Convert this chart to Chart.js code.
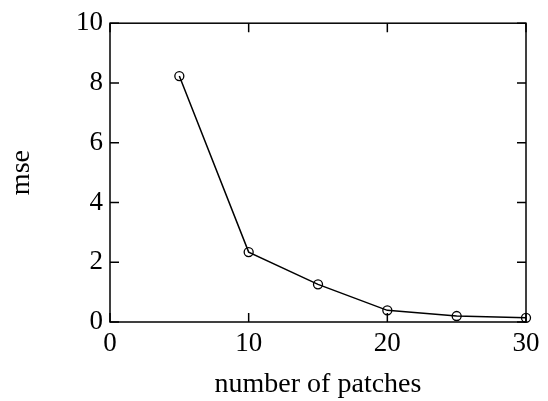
<!DOCTYPE html>
<html>
<head>
<meta charset="utf-8">
<script src="https://cdn.jsdelivr.net/npm/chart.js@4/dist/chart.umd.min.js"></script>
<style>
  html, body { margin: 0; padding: 0; background: #fff; }
  #wrap { width: 548px; height: 401px; }
</style>
</head>
<body>
<div id="wrap"><canvas id="chart1" width="548" height="401"></canvas></div>
<script>
const patches = [5, 10, 15, 20, 25, 30];
const mse = [8.23, 2.34, 1.26, 0.39, 0.2, 0.14];
const xTicks = [0, 10, 20, 30];
const yTicks = [0, 2, 4, 6, 8, 10];

const serif = "'Liberation Serif', 'Times New Roman', serif";

// frame around the plot plus inward tick marks on all four sides
const frameTicks = {
  id: "frameTicks",
  beforeDatasetsDraw(chart) {
    const { ctx, chartArea: a, scales } = chart;
    const len = 9;
    ctx.save();
    ctx.strokeStyle = "#000";
    ctx.lineWidth = 1.5;
    ctx.strokeRect(a.left, a.top, a.right - a.left, a.bottom - a.top);
    ctx.beginPath();
    scales.x.ticks.forEach((t) => {
      const px = scales.x.getPixelForValue(t.value);
      ctx.moveTo(px, a.bottom);
      ctx.lineTo(px, a.bottom - len);
      ctx.moveTo(px, a.top);
      ctx.lineTo(px, a.top + len);
    });
    scales.y.ticks.forEach((t) => {
      const py = scales.y.getPixelForValue(t.value);
      ctx.moveTo(a.left, py);
      ctx.lineTo(a.left + len, py);
      ctx.moveTo(a.right, py);
      ctx.lineTo(a.right - len, py);
    });
    ctx.stroke();
    ctx.restore();
  },
};

new Chart(document.querySelector("#chart1"), {
  type: "line",
  data: {
    datasets: [
      {
        label: "mse",
        data: patches.map((p, i) => ({ x: p, y: mse[i] })),
        borderColor: "#000",
        borderWidth: 1.5,
        pointRadius: 4.5,
        pointBorderWidth: 1.3,
        pointBorderColor: "#000",
        pointBackgroundColor: "rgba(0,0,0,0)",
        tension: 0,
        clip: false,
      },
    ],
  },
  options: {
    responsive: false,
    animation: false,
    layout: { padding: { left: 0, top: 20, right: 22, bottom: 0 } },
    plugins: { legend: { display: false }, tooltip: { enabled: false } },
    scales: {
      x: {
        type: "linear",
        min: 0,
        max: 30,
        afterBuildTicks: (s) => { s.ticks = xTicks.map((v) => ({ value: v })); },
        afterFit: (s) => { s.height = 79; },
        grid: { display: false, drawTicks: false },
        border: { display: false },
        ticks: { color: "#000", padding: 6, font: { family: serif, size: 27 } },
        title: {
          display: true,
          text: "number of patches",
          color: "#000",
          padding: { top: 0, bottom: 0 },
          font: { family: serif, size: 28 },
        },
      },
      y: {
        type: "linear",
        min: 0,
        max: 10,
        afterBuildTicks: (s) => { s.ticks = yTicks.map((v) => ({ value: v })); },
        afterFit: (s) => { s.width = 110; },
        grid: { display: false, drawTicks: false },
        border: { display: false },
        ticks: { color: "#000", padding: 7, font: { family: serif, size: 27 } },
        title: {
          display: true,
          text: "mse",
          color: "#000",
          padding: { top: 5, bottom: 0 },
          font: { family: serif, size: 28 },
        },
      },
    },
  },
  plugins: [frameTicks],
});
</script>
</body>
</html>
